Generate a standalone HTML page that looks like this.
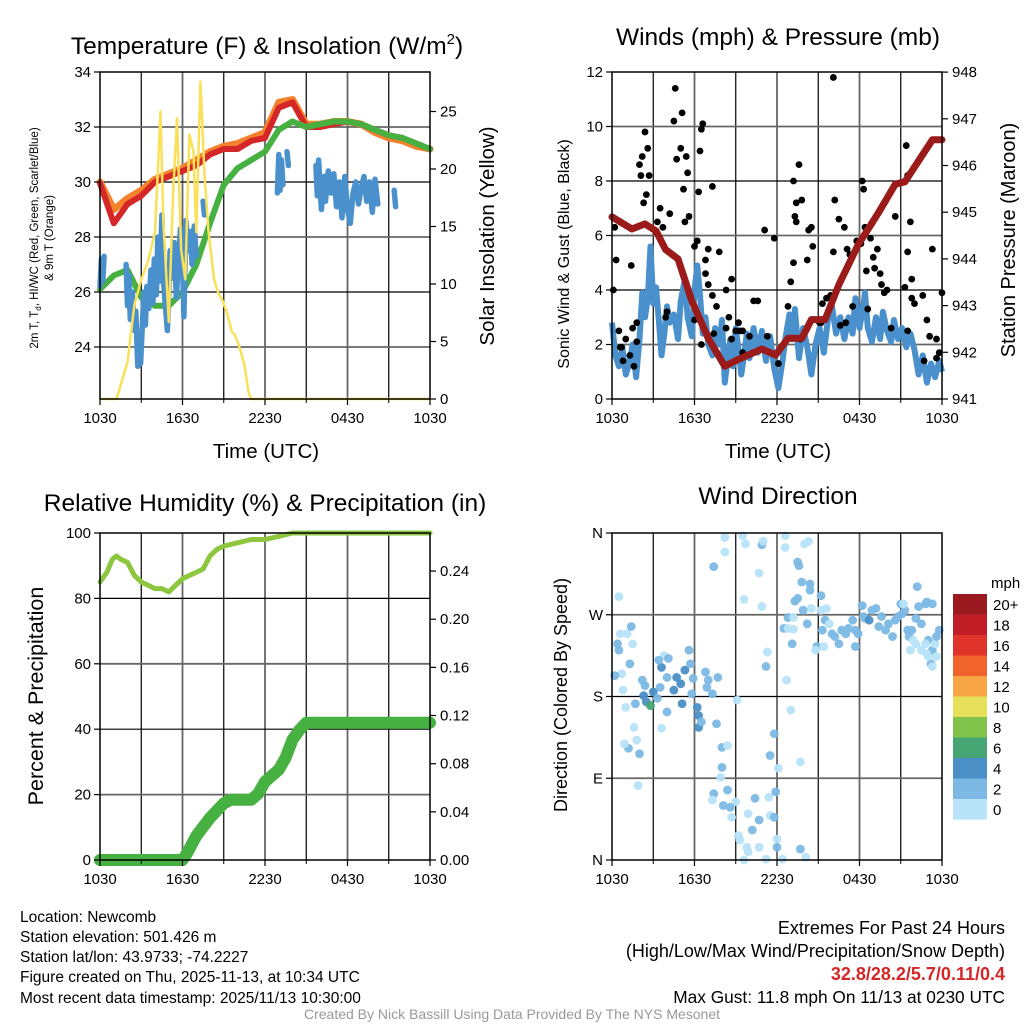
<!DOCTYPE html>
<html><head><meta charset="utf-8"><style>
body{margin:0;background:#fff;}
svg{display:block;font-family:"Liberation Sans",sans-serif;}
</style></head><body>
<svg id="c" width="1024" height="1024" viewBox="0 0 1024 1024" xmlns="http://www.w3.org/2000/svg">
<rect width="1024" height="1024" fill="#fff"/>
<g id="g1"></g>
<g id="g2"></g>
<g id="g3"></g>
<g id="g4"></g>
<text x="267" y="54" font-size="24.5" text-anchor="middle">Temperature (F) &amp; Insolation (W/m<tspan dy="-10" font-size="15">2</tspan><tspan dy="10">)</tspan></text>
<text x="778" y="45" font-size="24.5" text-anchor="middle">Winds (mph) &amp; Pressure (mb)</text>
<text x="265" y="511" font-size="24.5" text-anchor="middle">Relative Humidity (%) &amp; Precipitation (in)</text>
<text x="778" y="504" font-size="24.5" text-anchor="middle">Wind Direction</text>
<text transform="translate(38,238) rotate(-90)" font-size="11.5" text-anchor="middle">2m T, T<tspan dy="3" font-size="8">d</tspan><tspan dy="-3">, HI/WC (Red, Green, Scarlet/Blue)</tspan></text>
<text transform="translate(53,238) rotate(-90)" font-size="11.5" text-anchor="middle">&amp; 9m T (Orange)</text>
<text transform="translate(494,236) rotate(-90)" font-size="20.5" text-anchor="middle">Solar Insolation (Yellow)</text>
<text transform="translate(569,254) rotate(-90)" font-size="16" text-anchor="middle">Sonic Wind &amp; Gust (Blue, Black)</text>
<text transform="translate(1015,240) rotate(-90)" font-size="20" text-anchor="middle">Station Pressure (Maroon)</text>
<text transform="translate(43,696) rotate(-90)" font-size="21.5" text-anchor="middle">Percent &amp; Precipitation</text>
<text transform="translate(567,695) rotate(-90)" font-size="18" text-anchor="middle">Direction (Colored By Speed)</text>
<text x="266" y="458" font-size="20.5" text-anchor="middle">Time (UTC)</text>
<text x="778" y="458" font-size="20.5" text-anchor="middle">Time (UTC)</text>
<g font-size="15.5">
<text x="20" y="922">Location: Newcomb</text>
<text x="20" y="942">Station elevation: 501.426 m</text>
<text x="20" y="962">Station lat/lon: 43.9733; -74.2227</text>
<text x="20" y="982">Figure created on Thu, 2025-11-13, at 10:34 UTC</text>
<text x="20" y="1003">Most recent data timestamp: 2025/11/13 10:30:00</text>
</g>
<g text-anchor="end">
<text x="1005" y="934" font-size="18">Extremes For Past 24 Hours</text>
<text x="1005" y="957" font-size="18">(High/Low/Max Wind/Precipitation/Snow Depth)</text>
<text x="1005" y="980" font-size="18" fill="#d62728" font-weight="bold">32.8/28.2/5.7/0.11/0.4</text>
<text x="1005" y="1003" font-size="17.3">Max Gust: 11.8 mph On 11/13 at 0230 UTC</text>
</g>
<text x="512" y="1019" font-size="14" fill="#999" text-anchor="middle">Created By Nick Bassill Using Data Provided By The NYS Mesonet</text>
</svg>
<script>
// ---------- data ----------
const xTickLabels = ["1030","1630","2230","0430","1030"];
const hours = [0,1,2,3,4,5,6,7,8,9,10,11,12,13,14,15,16,17,18,19,20,21,22,23,24];
const tempRed = [29.95,28.5,29.2,29.5,30.0,30.2,30.4,30.6,31.0,31.2,31.2,31.5,31.6,32.7,32.9,32.0,32.0,32.1,32.2,32.1,31.9,31.7,31.6,31.4,31.2];
const tempOrange = [30.0,29.0,29.4,29.7,30.1,30.3,30.5,30.8,31.1,31.3,31.4,31.6,31.8,32.9,33.0,32.1,32.1,32.2,32.2,32.1,31.8,31.6,31.5,31.3,31.2];
const tempGreen = [26.1,26.6,26.8,25.8,25.5,25.5,26.0,27.0,28.5,29.9,30.5,30.8,31.1,31.9,32.2,32.0,32.1,32.2,32.2,32.1,31.9,31.7,31.6,31.4,31.2];
const wcTime = [0,0.1,0.2,0.3,0.35,1.9,2.0,2.1,2.2,2.35,2.5,2.6,2.75,2.85,2.95,3.1,3.2,3.3,3.4,3.55,3.7,3.85,3.95,4.1,4.2,4.35,4.5,4.6,4.75,4.9,5.0,5.1,5.25,5.4,5.55,5.7,5.85,6.0,6.1,6.25,6.4,6.55,6.7,6.85,7.0,7.2,7.5,7.6,7.7,12.9,13.0,13.1,13.2,13.3,13.4,13.6,13.7,13.8,15.7,15.8,15.9,16.0,16.1,16.3,16.4,16.6,16.8,17.0,17.2,17.4,17.6,17.8,18.0,18.2,18.4,18.6,18.8,19.0,19.2,19.4,19.6,19.8,20.0,20.2,20.3,21.4,21.5];
const wcVals = [26.2,27.2,26.4,27.3,null,27.0,25.5,26.6,25.0,26.0,24.6,25.3,23.3,24.2,23.4,25.0,26.0,24.8,26.2,25.4,26.8,25.6,27.2,25.9,28.0,26.4,28.8,26.5,25.5,24.6,26.0,27.5,26.5,27.8,25.8,27.0,28.3,27.2,25.1,28.6,27.5,28.2,27.0,28.4,27.3,null,29.3,28.8,null,29.6,31.0,29.7,30.8,29.9,null,31.1,30.6,null,30.6,29.5,30.8,29.9,29.0,30.2,29.3,30.4,29.6,30.3,29.1,30.0,28.7,30.2,29.0,28.5,29.6,30.0,29.2,29.8,30.2,29.3,30.0,28.9,30.1,29.2,null,29.7,29.1];
const insolTime = [0,1.2,1.5,2,2.5,3,3.5,4,4.4,4.6,5,5.3,5.6,5.9,6.2,6.5,6.8,7.0,7.3,7.6,7.9,8.3,8.6,8.9,9.2,9.6,9.8,10.2,10.5,10.8,11,24];
const insolVals = [0,0,1.2,3.2,8.2,10.4,12,14.5,25,15.5,6.7,17.5,24.4,13,10.4,23,21.5,14.5,27.6,19.5,14.5,10.4,9.2,8.6,7.6,5.8,5.6,4.3,3.0,0.6,0,0];
const windTime = [0,0.25,0.5,0.75,1,1.25,1.5,1.75,2.0,2.2,2.4,2.6,2.8,3.0,3.2,3.4,3.6,3.8,4.0,4.2,4.5,4.8,5.0,5.3,5.5,5.8,6.0,6.2,6.4,6.6,6.8,7.0,7.3,7.5,7.8,8.0,8.2,8.4,8.6,8.8,9.0,9.2,9.4,9.6,9.8,10.0,10.3,10.6,10.9,11.2,11.5,11.8,12.1,12.4,12.6,12.9,13.1,13.3,13.6,13.9,14.2,14.5,14.8,15.1,15.4,15.7,16.0,16.3,16.6,16.9,17.2,17.5,17.7,18.0,18.2,18.4,18.6,18.9,19.2,19.5,19.7,20.0,20.3,20.5,20.8,21.1,21.4,21.7,22.0,22.3,22.6,22.9,23.2,23.5,23.8,24];
const windVals = [2.8,1.6,1.2,1.9,0.9,1.3,2.0,0.8,2.2,3.9,3.0,3.7,5.6,3.5,4.1,2.9,1.6,2.4,3.4,2.8,3.1,2.2,3.6,4.4,3.0,2.3,4.0,4.9,3.8,2.4,3.0,2.0,1.6,2.6,2.0,2.9,0.6,1.4,2.2,1.2,2.6,1.8,0.9,1.6,2.4,1.5,2.6,1.7,2.5,1.4,2.3,1.1,0.4,1.4,2.2,3.1,2.2,3.3,1.5,2.6,1.9,0.9,2.0,2.6,1.7,2.9,3.4,2.4,3.0,2.2,3.0,2.4,3.7,2.6,3.2,3.9,2.6,2.1,3.0,2.2,3.2,2.5,2.1,2.9,2.2,2.6,1.9,2.4,1.8,0.9,1.6,0.6,1.3,0.8,1.4,1.0];
const gustTime = [0.1,0.2,0.3,0.5,0.6,0.7,0.8,1.0,1.3,1.4,1.6,1.5,1.8,1.8,2.0,2.1,2.2,2.4,2.6,2.7,2.5,2.3,3.3,3.5,3.7,3.9,4.0,4.2,4.5,4.6,4.7,5.0,5.1,5.4,5.2,5.5,5.3,5.6,6.0,6.2,6.3,6.0,6.4,6.5,6.6,6.5,6.8,6.8,7.0,7.3,7.0,7.3,7.4,7.6,7.8,8.3,8.3,8.5,8.7,8.7,9.0,9.2,9.3,9.5,9.5,10.0,10.3,10.6,11.1,11.3,11.8,12.1,12.8,13.0,13.2,13.3,13.4,13.6,13.8,13.2,13.4,13.7,14.2,14.3,14.6,14.5,15.1,15.3,15.6,15.9,16.1,16.2,16.1,16.5,16.9,17.1,17.3,17.8,18.2,18.3,18.1,18.4,18.8,19.0,19.5,19.6,19.3,20.3,20.6,21.4,21.5,21.7,21.8,21.5,22.0,22.6,22.9,23.1,23.6,23.8,24.0,23.3,23.6,22.7,21.8,21.5,21.3,20.0,19.8,19.1,18.5,18.6,17.5,17.0,16.6,15.2];
const gustVals = [4.0,6.3,5.1,2.5,1.9,1.9,1.4,2.2,1.6,4.9,1.2,2.6,2.8,2.1,8.6,8.2,8.9,9.8,9.2,8.2,7.5,7.2,6.5,7.0,6.3,3.0,3.2,6.8,10.2,11.4,8.8,9.2,10.5,8.9,7.7,8.3,6.5,6.7,5.6,5.8,7.6,2.9,9.1,9.9,10.1,2.0,4.6,5.1,5.5,7.8,4.2,3.8,2.4,3.4,5.4,4.0,2.6,3.0,2.2,4.4,2.5,2.8,2.5,2.5,1.7,2.3,3.6,3.6,6.2,2.3,5.9,1.3,3.4,4.3,5.0,6.7,6.5,8.6,7.3,8.0,7.2,2.2,5.1,6.2,5.6,6.3,2.8,3.5,3.7,3.8,11.8,7.3,5.4,6.6,6.3,5.5,5.3,5.8,8.0,7.7,5.7,6.3,5.9,5.2,4.6,4.2,5.5,2.6,6.7,9.3,8.2,6.5,4.4,2.5,3.5,3.8,2.9,2.3,1.5,1.7,3.9,5.5,2.2,1.4,3.7,5.4,4.1,4.0,3.9,4.8,4.7,3.3,3.4,2.8,2.7,2.8];
const presTime = [0,1.45,2.4,3.2,3.9,4.8,5.8,7,8.2,9.2,10.9,11.9,12.8,13.8,14.5,15.5,16.5,17.9,19.4,20.6,21.3,22.3,23.3,24];
const presVals = [944.9,944.64,944.75,944.6,944.2,944.0,943.1,942.3,941.7,941.85,942.07,941.94,942.3,942.3,942.7,942.7,943.45,944.3,945.0,945.6,945.65,946.1,946.55,946.55];
const rhTime = [0,0.5,0.9,1.2,1.5,2,2.5,3,3.5,4,4.5,5,5.5,6,6.5,7,7.5,8,8.5,9,10,11,12,13,14,24];
const rhVals = [85,88,92,93,92,91,87,85,84,83,83,82,84,86,87,88,89,93,95,96,97,98,98,99,100,100];
const precTime = [0,6,6.3,7,8,9,9.5,11,11.5,12,13,13.5,14,14.5,15,24];
const precVals = [0,0,0.005,0.02,0.035,0.047,0.05,0.05,0.055,0.065,0.075,0.085,0.1,0.108,0.114,0.114];
const dirTime = [0.5,0.4,0.5,0.6,1.1,1.5,1.4,1.3,0.7,0.2,0.8,1.0,1.7,1.6,1.8,1.2,0.9,2.0,1.9,2.2,2.4,2.3,2.5,2.8,3.0,3.3,3.5,3.6,3.8,3.4,4.0,4.1,4.5,4.7,5.0,5.1,5.3,5.6,5.7,5.9,4.0,3.6,5.8,6.2,6.3,6.3,6.5,6.8,7.0,6.9,7.3,7.7,7.6,8.0,8.0,7.9,8.4,7.4,7.3,8.1,8.4,8.7,9.0,8.6,9.2,9.3,9.6,9.9,10.2,10.4,10.7,9.9,11.4,11.5,11.9,11.8,12.0,12.0,12.4,11.2,9.8,10.7,13.7,14.1,11.5,11.8,12.1,12.7,13.0,13.7,11.2,11.3,9.1,7.4,8.2,8.2,9.5,9.7,10.9,11.0,10.7,9.6,10.9,12.6,12.6,14.0,14.3,13.5,13.6,13.8,14.4,14.4,13.3,13.5,15.2,14.5,15.2,15.6,13.9,12.8,13.2,12.5,12.8,13.2,13.1,14.2,15.5,15.3,14.9,14.8,15.4,15.8,16.0,16.2,16.5,16.7,17.0,17.2,17.5,17.7,17.9,17.7,18.2,18.3,18.4,18.7,18.9,19.2,19.4,19.6,19.9,20.1,20.4,20.6,20.8,21.1,21.3,21.5,21.6,21.8,22.1,22.3,22.5,22.8,22.9,23.3,22.2,23.0,23.3,23.5,23.6,23.2,23.8,23.6,21.0,21.2,21.9,22.1,22.8,21.7,22.5,22.9,23.0,23.3];
const dirVals = [290,238,231,249,249,238,257,216,205,203,187,168,172,146,132,123,128,117,82,198,192,181,174,170,185,178,190,212,225,220,201,222,187,201,194,172,209,231,216,200,163,145,183,168,159,146,152,207,198,190,183,201,150,124,102,91,126,73,66,60,77,47,64,58,27,22,0,9,33,68,44,51,69,49,75,47,23,14,1,1,14,14,12,3,115,139,101,198,165,108,213,229,176,323,355,339,357,348,347,351,316,287,279,357,344,348,351,328,324,306,304,297,285,288,291,277,275,277,275,267,267,255,255,254,238,260,264,253,235,231,235,260,249,246,238,253,249,255,264,253,249,235,280,268,266,264,275,277,257,268,253,260,246,264,268,271,275,253,246,253,266,279,260,282,284,282,301,242,231,238,246,216,253,224,282,282,242,238,238,231,231,227,224,213];
const dirSpeed = [1,3,3,1,1,1,3,3,1,3,1,1,3,1,1,3,1,3,1,3,3,5,5,7,5,3,3,5,1,3,3,3,5,5,5,5,5,3,3,3,3,1,3,5,5,5,3,3,3,3,3,3,3,3,3,1,1,3,1,3,3,1,1,3,1,1,1,1,3,3,3,1,1,1,3,3,1,3,1,1,1,1,3,1,3,3,1,1,1,1,3,1,1,3,1,1,1,1,3,1,1,1,1,1,1,1,1,3,3,3,3,3,3,3,3,1,1,1,3,3,1,3,1,1,3,3,3,3,3,1,1,1,3,3,3,3,3,3,3,3,3,3,3,3,3,5,3,3,3,3,3,3,3,3,3,3,3,3,3,3,3,3,3,3,3,3,3,3,3,1,3,3,3,1,3,1,1,1,1,1,1,1,1,1,1];
const cbLabels = ["20+","18","16","14","12","10","8","6","4","2","0"];
const cbColors = ["#9b1a1f","#c21e27","#e0342b","#f0632b","#f8a546","#e6e05a","#80c24a","#46a673","#4a8fc6","#7cb9e5","#b8e3f8"];

// ---------- helpers ----------
const NS="http://www.w3.org/2000/svg";
function mk(parent,tag,attrs){const e=document.createElementNS(NS,tag);for(const k in attrs)e.setAttribute(k,attrs[k]);parent.appendChild(e);return e;}
function pathFrom(xs,ys,fx,fy){let d="",pen=false;for(let i=0;i<xs.length;i++){if(ys[i]===null||ys[i]===undefined){pen=false;continue;}const X=fx(xs[i]).toFixed(1),Y=fy(ys[i]).toFixed(1);if(!pen){d+="M"+X+" "+Y+" L"+X+" "+Y+" ";pen=true;}else d+="L"+X+" "+Y+" ";}return d;}
function spdColor(s){const idx=10-Math.min(10,Math.floor(s/2));return cbColors[idx];}

function frame(g,x0,y0,w,h,hLines,fy){
  const grid=mk(g,"g",{});
  
  
  for(let k=1;k<8;k++){const x=x0+k*w/8;const l=mk(grid,"line",{x1:x,x2:x,y1:y0,y2:y0+h,stroke:k%2?"#000":"#666","stroke-width":k%2?1.2:1.8});
    
    }
  hLines.forEach((v,i)=>{const y=fy(v);const l=mk(grid,"line",{x1:x0,x2:x0+w,y1:y,y2:y,stroke:i%2?"#000":"#666","stroke-width":i%2?1.2:1.8});
    
    });
}
function border(g,x0,y0,w,h){const r=mk(g,"rect",{x:x0,y:y0,width:w,height:h,fill:"none",stroke:"#000","stroke-width":1.5});
  
  }
function xAxis(g,x0,y0,w,h){
  xTickLabels.forEach((lab,i)=>{const x=x0+i*w/4;
    const t=mk(g,"line",{x1:x,x2:x,y1:y0+h,y2:y0+h+6,stroke:"#000","stroke-width":1.2});
    
    
    const tx=mk(g,"text",{x:x,y:y0+h+24,"font-size":15,"text-anchor":"middle"});tx.textContent=lab;
    
    });
  for(let k=1;k<8;k+=2){const x=x0+k*w/8;const t=mk(g,"line",{x1:x,x2:x,y1:y0+h,y2:y0+h+4,stroke:"#000"});
    
    }
}
function yAxis(g,xEdge,side,vals,labels,fy){
  vals.forEach((v,i)=>{const y=fy(v);
    const t=mk(g,"line",{x1:xEdge,x2:xEdge+(side<0?-6:6),y1:y,y2:y,stroke:"#000","stroke-width":1.2});
    
    
    const tx=mk(g,"text",{x:xEdge+(side<0?-9:10),y:y+5,"font-size":15,"text-anchor":side<0?"end":"start"});tx.textContent=labels[i];
    
    });
}

// ---------- panel 1 ----------
(function(){
  const g=document.getElementById("g1");const X0=100,Y0=72,W=330,H=327;
  const fx=t=>X0+t*W/24, fy=v=>Y0+(34-v)*27.5, fs=w=>Y0+H-w*11.5;
  frame(g,X0,Y0,W,H,[24,26,28,30,32],fy);
  const o=mk(g,"path",{d:pathFrom(hours,tempOrange,fx,fy),fill:"none",stroke:"#f4812c","stroke-width":7,"stroke-linejoin":"round","stroke-linecap":"round"});
  
  
  const r=mk(g,"path",{d:pathFrom(hours,tempRed,fx,fy),fill:"none",stroke:"#d62728","stroke-width":6,"stroke-linejoin":"round","stroke-linecap":"round"});
  
  
  const gr=mk(g,"path",{d:pathFrom(hours,tempGreen,fx,fy),fill:"none",stroke:"#46b041","stroke-width":6,"stroke-linejoin":"round","stroke-linecap":"round"});
  
  
  const b=mk(g,"path",{d:pathFrom(wcTime,wcVals,fx,fy),fill:"none",stroke:"#4a90cc","stroke-width":5.5,"stroke-linejoin":"round","stroke-linecap":"round"});
  
  
  const y=mk(g,"path",{d:pathFrom(insolTime,insolVals,fx,fs),fill:"none",stroke:"#f9e15a","stroke-width":2.5,"stroke-linejoin":"round"});
  
  
  border(g,X0,Y0,W,H);xAxis(g,X0,Y0,W,H);
  yAxis(g,X0,-1,[24,26,28,30,32,34],["24","26","28","30","32","34"],fy);
  yAxis(g,X0+W,1,[0,5,10,15,20,25],["0","5","10","15","20","25"],fs);
})();

// ---------- panel 2 ----------
(function(){
  const g=document.getElementById("g2");const X0=612,Y0=72,W=330,H=327;
  const fx=t=>X0+t*W/24, fw=v=>Y0+H-v*27.25, fp=p=>Y0+H-(p-941)*46.7;
  frame(g,X0,Y0,W,H,[2,4,6,8,10],fw);
  const b=mk(g,"path",{d:pathFrom(windTime,windVals,fx,fw),fill:"none",stroke:"#4a90cc","stroke-width":6,"stroke-linejoin":"round"});
  
  
  gustTime.forEach((t,i)=>{const c=mk(g,"circle",{cx:fx(t),cy:fw(gustVals[i]),r:3.4,fill:"#000"});
    
    });
  const p=mk(g,"path",{d:pathFrom(presTime,presVals,fx,fp),fill:"none",stroke:"#9b1b1b","stroke-width":7,"stroke-linejoin":"round","stroke-linecap":"round"});
  
  
  border(g,X0,Y0,W,H);xAxis(g,X0,Y0,W,H);
  yAxis(g,X0,-1,[0,2,4,6,8,10,12],["0","2","4","6","8","10","12"],fw);
  yAxis(g,X0+W,1,[941,942,943,944,945,946,947,948],["941","942","943","944","945","946","947","948"],fp);
})();

// ---------- panel 3 ----------
(function(){
  const g=document.getElementById("g3");const X0=100,Y0=533,W=330,H=327;
  const fx=t=>X0+t*W/24, fr=v=>Y0+H-v*3.27, fp=p=>Y0+H-p*1204;
  frame(g,X0,Y0,W,H,[20,40,60,80],fr);
  const r=mk(g,"path",{d:pathFrom(rhTime,rhVals,fx,fr),fill:"none",stroke:"#8dc63f","stroke-width":5,"stroke-linejoin":"round","stroke-linecap":"round"});
  
  
  const p=mk(g,"path",{d:pathFrom(precTime,precVals,fx,fp),fill:"none",stroke:"#46b041","stroke-width":12,"stroke-linejoin":"round","stroke-linecap":"round"});
  
  
  border(g,X0,Y0,W,H);xAxis(g,X0,Y0,W,H);
  yAxis(g,X0,-1,[0,20,40,60,80,100],["0","20","40","60","80","100"],fr);
  yAxis(g,X0+W,1,[0,0.04,0.08,0.12,0.16,0.2,0.24],["0.00","0.04","0.08","0.12","0.16","0.20","0.24"],fp);
})();

// ---------- panel 4 ----------
(function(){
  const g=document.getElementById("g4");const X0=612,Y0=533,W=330,H=327;
  const fx=t=>X0+t*W/24, fd=d=>Y0+H-d*H/360;
  frame(g,X0,Y0,W,H,[90,180,270],fd);
  dirTime.forEach((t,i)=>{const c=mk(g,"circle",{cx:fx(t),cy:fd(dirVals[i]),r:4.4,fill:spdColor(dirSpeed[i]),"fill-opacity":0.95});
    
    });
  border(g,X0,Y0,W,H);xAxis(g,X0,Y0,W,H);
  yAxis(g,X0,-1,[0,90,180,270,360],["N","E","S","W","N"],fd);
  const cb=mk(g,"g",{});
  
  
  const u=mk(cb,"text",{x:991,y:588,"font-size":15});u.textContent="mph";
  
  
  cbLabels.forEach((lab,i)=>{const y=594+i*20.5;
    const r=mk(cb,"rect",{x:953,y:y,width:34,height:20.6,fill:cbColors[i]});
    
    
    const tx=mk(cb,"text",{x:993,y:y+16,"font-size":15});tx.textContent=lab;
    
    });
})();
</script>
</body></html>
